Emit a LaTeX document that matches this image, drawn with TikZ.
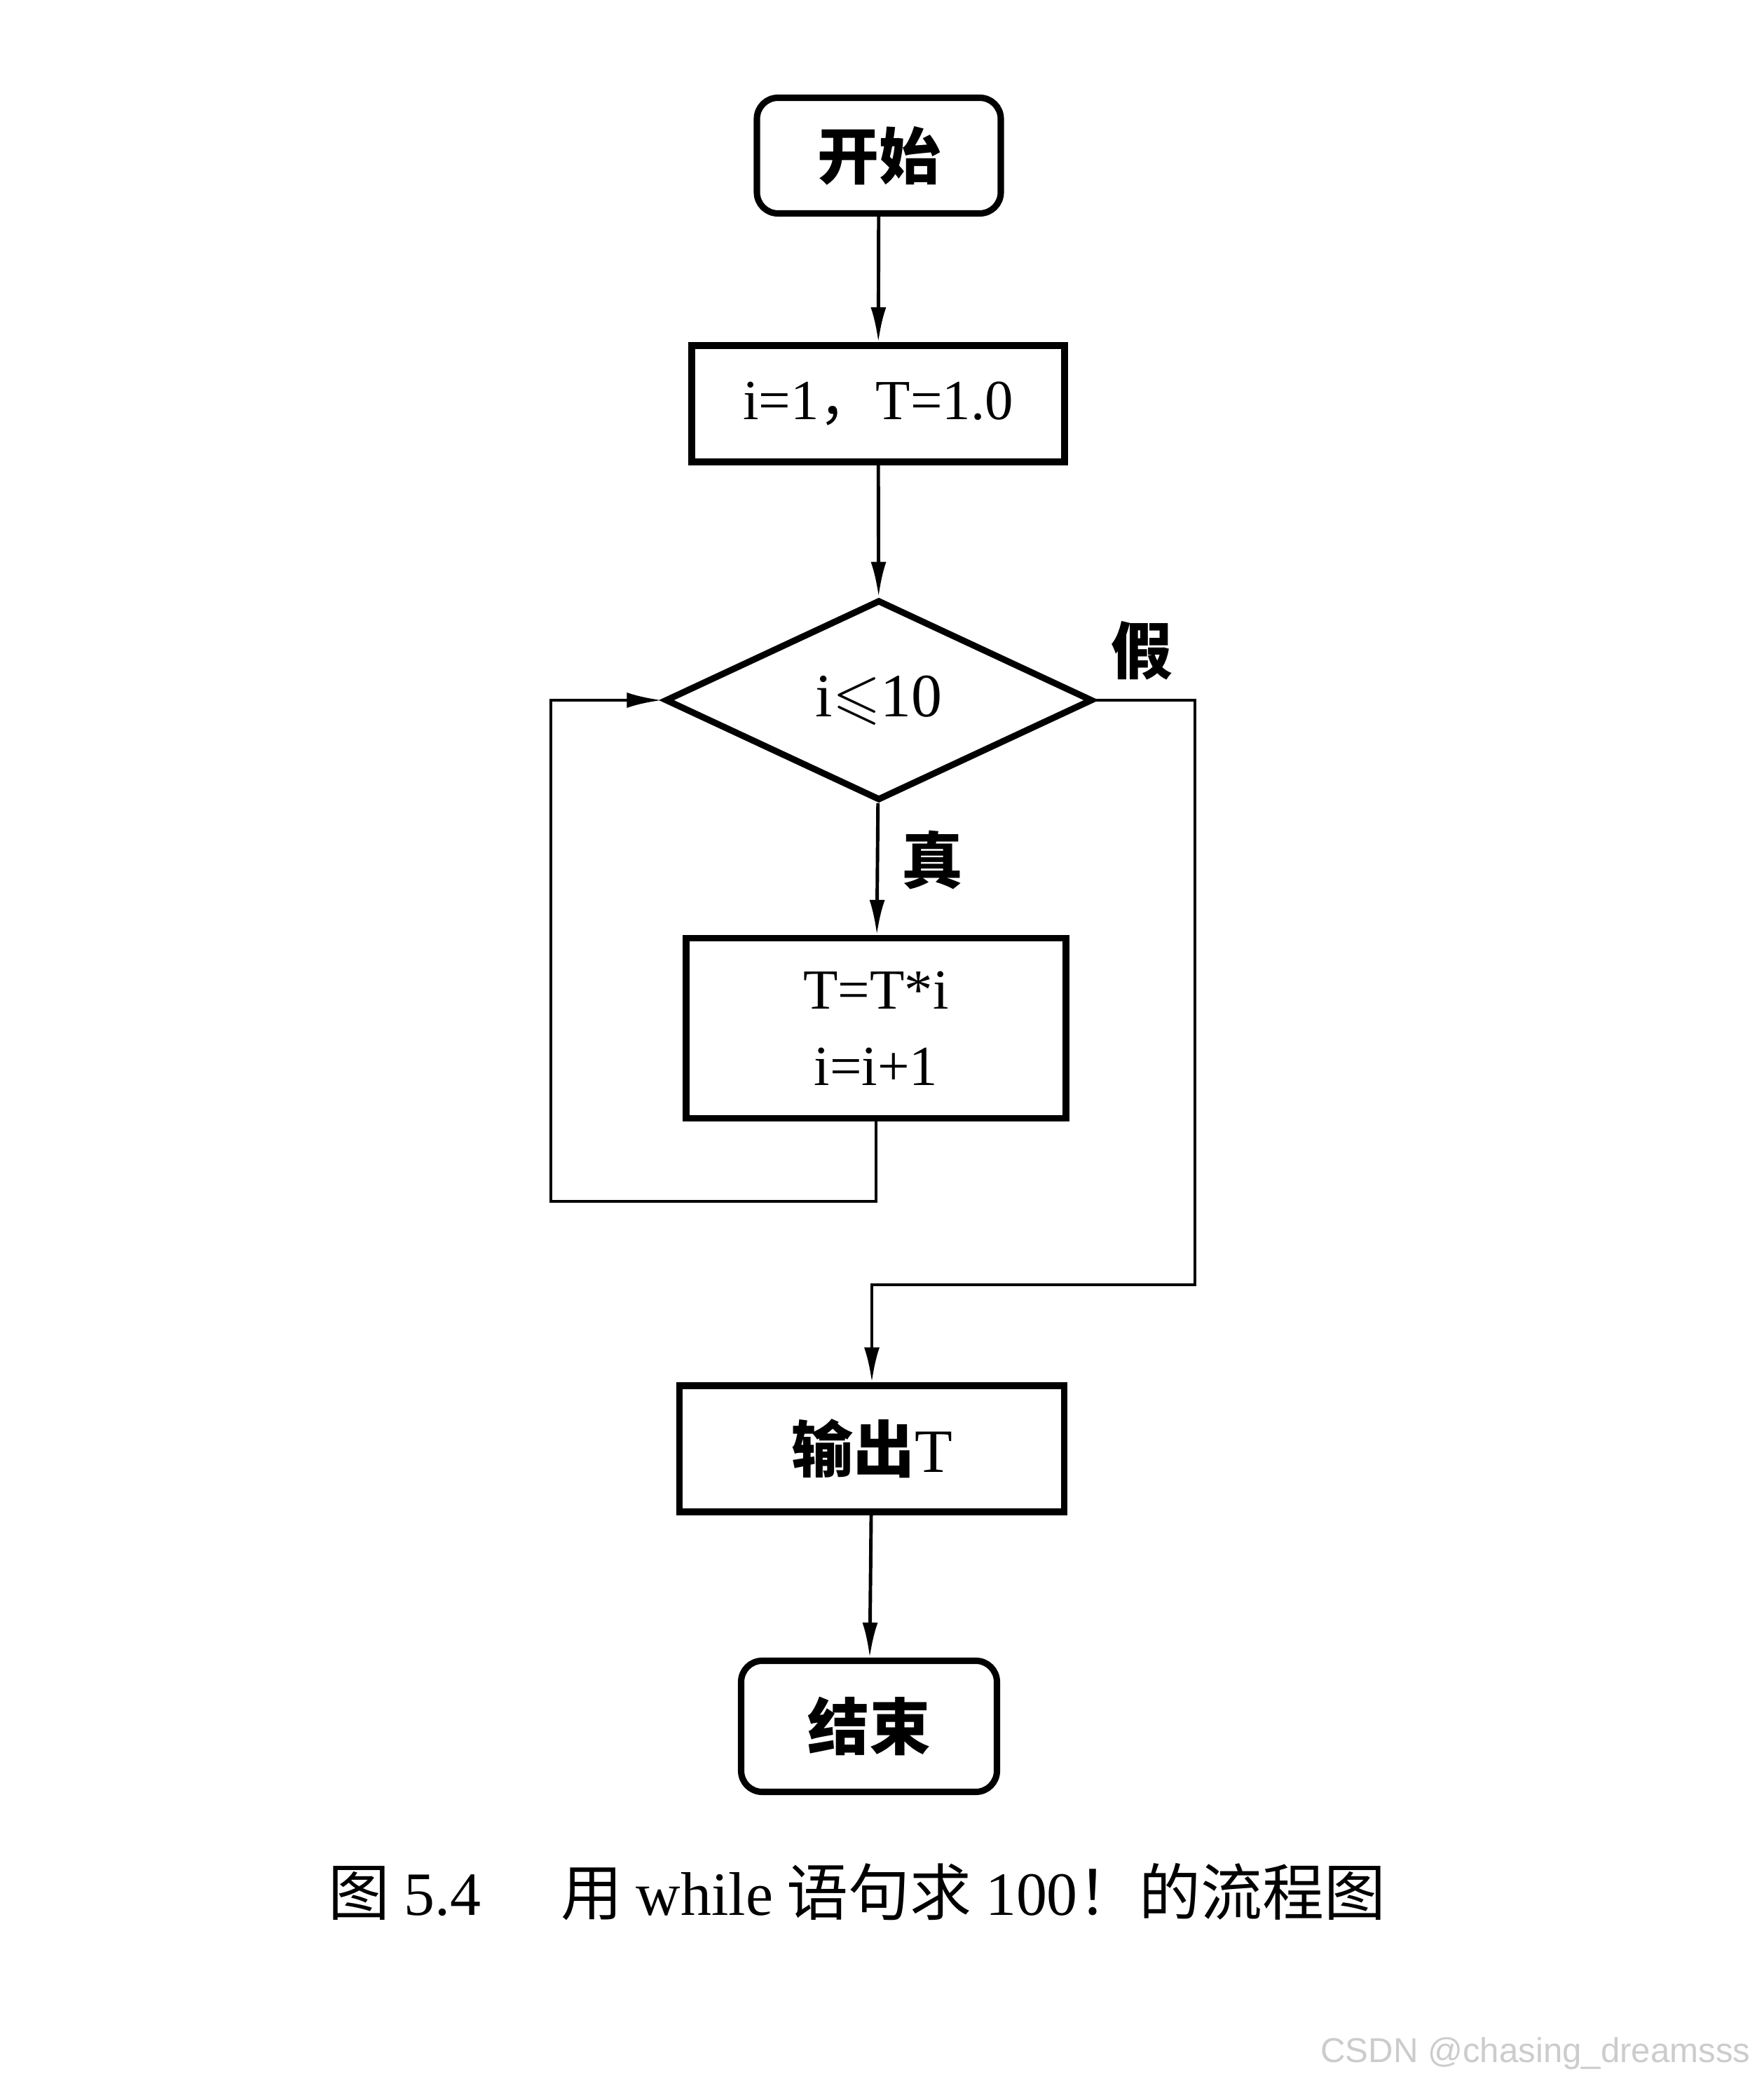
\documentclass[tikz,border=0pt]{standalone}
\usepackage{amssymb}
\usepackage{fontspec}
\setmainfont{Liberation Serif}
\newfontfamily\cjk{Noto Sans CJK SC}
\newfontfamily\wmfont{Liberation Sans}
\usetikzlibrary{shapes.geometric,arrows.meta}
\begin{document}
\begin{tikzpicture}[term/.style={rectangle,rounded corners=0.3cm,draw,line width=2.6pt,inner sep=0pt,font=\fontsize{25}{30}\selectfont\cjk\bfseries},
proc/.style={rectangle,draw,line width=2.6pt,inner sep=0pt,align=center,font=\fontsize{23}{31}\selectfont},
cond/.style={diamond,aspect=2.1,draw,line width=2.6pt,inner sep=0pt,minimum width=6.1cm,minimum height=2.86cm,font=\fontsize{25}{30}\selectfont},
flow/.style={line width=1.4pt,-{Latex[length=5mm,width=2.2mm]}},
tag/.style={font=\fontsize{25}{30}\selectfont\cjk\bfseries}]
\useasboundingbox (0,0) rectangle (25.17,29.69);
\node[term,minimum width=3.48cm,minimum height=1.65cm] (start) at (12.54,27.47) {开始};
\node[proc,minimum width=5.32cm,minimum height=1.66cm] (init) at (12.53,23.93) {i=1{\cjk，}T=1.0};
\node[cond] (test) at (12.54,19.70) {i$\leqslant$10};
\node[proc,minimum width=5.42cm,minimum height=2.57cm] (body) at (12.50,15.02) {T=T*i\\i=i+1};
\node[proc,minimum width=5.49cm,minimum height=1.80cm,font=\fontsize{25}{30}\selectfont] (out) at (12.44,9.02) {{\cjk\bfseries 输出}T};
\node[term,minimum width=3.65cm,minimum height=1.87cm] (stop) at (12.40,5.06) {结束};
\node[tag] (no) at (16.29,20.41) {假};
\node[tag] (yes) at (13.30,17.42) {真};
\coordinate (back) at (7.86,12.55);
\coordinate (skip) at (17.05,11.36);
\draw[flow] (start) -- (init);
\draw[flow] (init) -- (test);
\draw[flow] (test) -- (body);
\draw[flow] (body.south) |- (back) |- (test.west);
\draw[flow] (test.east) -| (skip) -| (out.north);
\draw[flow] (out) -- (stop);
\node[font=\fontsize{25}{30}\selectfont\cjk] (cap) at (12.23,2.70) {图 {\rmfamily 5.4}\hspace{1.3em}用 {\rmfamily while} 语句求 {\rmfamily 100}！的流程图};
\node[font=\fontsize{14}{18}\selectfont\wmfont,text=black!20,anchor=east] (csdn) at (25.10,0.39) {CSDN @chasing\_dreamsss};
\end{tikzpicture}
\end{document}
